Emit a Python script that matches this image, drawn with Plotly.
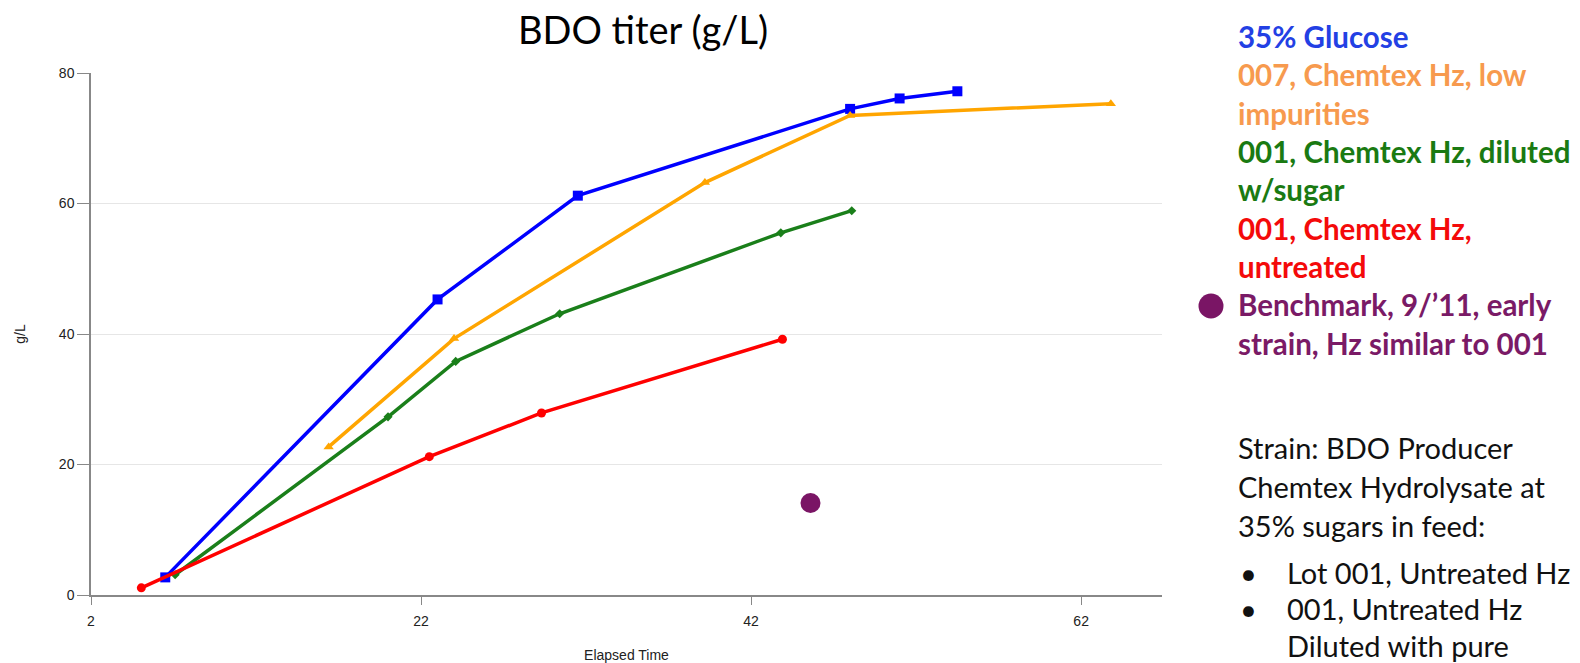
import plotly.graph_objects as go

# Elapsed time (h) and BDO titer (g/L) per feed condition
glucose_time = [6.5, 23.0, 31.5, 48.0, 51.0, 54.5]
glucose_titer = [2.7, 45.3, 61.2, 74.5, 76.1, 77.2]

lot007_time = [16.4, 24.0, 39.2, 48.0, 63.8]
lot007_titer = [22.7, 39.3, 63.2, 73.5, 75.3]

diluted_time = [7.1, 20.0, 24.1, 30.4, 43.8, 48.1]
diluted_titer = [3.1, 27.3, 35.8, 43.1, 55.5, 58.9]

untreated_time = [5.05, 22.5, 29.3, 43.9]
untreated_titer = [1.1, 21.2, 27.9, 39.2]

benchmark_time = [45.6]
benchmark_titer = [14.1]

x_ticks = [2, 22, 42, 62]
y_ticks = [0, 20, 40, 60, 80]

legend_lines = [
    ("35% Glucose", "#2340E4"),
    ("007, Chemtex Hz, low", "#F79A4E"),
    ("impurities", "#F79A4E"),
    ("001, Chemtex Hz, diluted", "#1A7A12"),
    ("w/sugar", "#1A7A12"),
    ("001, Chemtex Hz,", "#F40A0A"),
    ("untreated", "#F40A0A"),
    ("Benchmark, 9/\u201911, early", "#7A1A66"),
    ("strain, Hz similar to 001", "#7A1A66"),
]
note_lines = [
    "Strain: BDO Producer",
    "Chemtex Hydrolysate at",
    "35% sugars in feed:",
]
bullet_lines = [
    ("\u2022", "Lot 001, Untreated Hz"),
    ("\u2022", "001, Untreated Hz"),
    ("", "Diluted with pure"),
]

W, H = 1580, 663
L, R, T, B = 91, 418, 72.6, 67.5
PW, PH = W - L - R, H - T - B


def px(xp):
    return (xp - L) / PW


def py(yp):
    return (H - B - yp) / PH


fig = go.Figure()

series = [
    (glucose_time, glucose_titer, "#0000FF", "square", 10),
    (lot007_time, lot007_titer, "#FFA500", "triangle-up", 9),
    (diluted_time, diluted_titer, "#1A7F1A", "diamond", 7),
    (untreated_time, untreated_titer, "#FF0000", "circle", 9),
]
for xs, ys, col, sym, sz in series:
    fig.add_trace(go.Scatter(
        x=xs, y=ys, mode="lines+markers",
        line=dict(color=col, width=3.5),
        marker=dict(color=col, symbol=sym, size=sz),
        showlegend=False, cliponaxis=False,
    ))

fig.add_trace(go.Scatter(
    x=benchmark_time, y=benchmark_titer, mode="markers",
    marker=dict(color="#7A1565", size=20),
    showlegend=False,
))

axis_font = dict(family="Liberation Sans", size=14, color="#222222")
fig.update_xaxes(
    range=[2, 66.9], tickvals=x_ticks, showgrid=False,
    showline=True, linecolor="#888888", linewidth=1.5,
    ticks="outside", ticklen=8, tickcolor="#888888",
    ticklabelstandoff=4, tickfont=axis_font,
    title=dict(text="Elapsed Time", standoff=24, font=axis_font),
    zeroline=False, automargin=False,
)
fig.update_yaxes(
    range=[0, 80], tickvals=y_ticks, showgrid=True, gridcolor="#E6E6E6",
    showline=True, linecolor="#888888", linewidth=1.5,
    ticks="outside", ticklen=12, tickcolor="#888888",
    tickfont=axis_font,
    title=dict(text="g/L", standoff=30, font=axis_font),
    zeroline=False, automargin=False,
)

annotations = [
    dict(text="BDO titer (g/L)", x=px(643), y=py(29), xref="paper", yref="paper",
         showarrow=False, xanchor="center", yanchor="middle",
         font=dict(family="Lato", size=38, color="#000000")),
]

y0, step = 36, 38.4
for i, (txt, col) in enumerate(legend_lines):
    annotations.append(dict(
        text="<b>" + txt + "</b>", x=px(1236), y=py(y0 + i * step),
        xref="paper", yref="paper", showarrow=False,
        xanchor="left", yanchor="middle",
        font=dict(family="Lato", size=29.5, color=col),
    ))

note_font = dict(family="Lato", size=29, color="#111111")
for i, txt in enumerate(note_lines):
    annotations.append(dict(
        text=txt, x=px(1236), y=py(448 + i * 39),
        xref="paper", yref="paper", showarrow=False,
        xanchor="left", yanchor="middle", font=note_font,
    ))

for i, (bullet, txt) in enumerate(bullet_lines):
    yy = py(573 + i * 36.5)
    if bullet:
        annotations.append(dict(
            text=bullet, x=px(1238), y=yy, xref="paper", yref="paper",
            showarrow=False, xanchor="left", yanchor="middle", font=note_font,
        ))
    annotations.append(dict(
        text=txt, x=px(1285), y=yy, xref="paper", yref="paper",
        showarrow=False, xanchor="left", yanchor="middle", font=note_font,
    ))

# benchmark dot next to its legend entry
cx, cy, r = 1211, 306, 12.5
shapes = [dict(type="circle", xref="paper", yref="paper",
               x0=px(cx - r), x1=px(cx + r), y0=py(cy + r), y1=py(cy - r),
               fillcolor="#7A1565", line=dict(width=0))]

fig.update_layout(
    width=W, height=H,
    margin=dict(l=L, r=R, t=T, b=B, autoexpand=False),
    paper_bgcolor="white", plot_bgcolor="white",
    annotations=annotations, shapes=shapes,
    showlegend=False,
)

fig.write_html("out.html")
